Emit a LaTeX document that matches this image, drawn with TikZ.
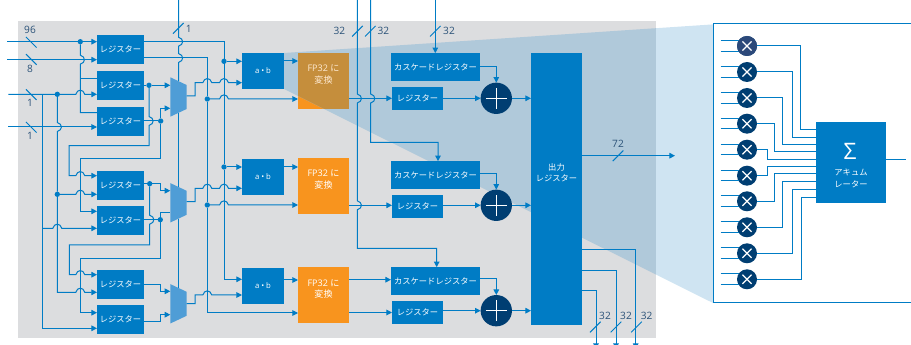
\documentclass[tikz,border=0pt]{standalone}
\usepackage{fontspec}
\setmainfont{Open Sans}
\newfontfamily\jpf{Noto Sans CJK JP}
\usetikzlibrary{positioning}
\usetikzlibrary{calc}
\usetikzlibrary{arrows.meta}
\definecolor{boxblue}{RGB}{0,124,197}
\definecolor{muxblue}{RGB}{79,157,214}
\definecolor{navy}{RGB}{0,62,114}
\definecolor{slatenavy}{RGB}{44,73,122}
\definecolor{orange}{RGB}{248,148,30}
\definecolor{tintorange}{RGB}{197,142,60}
\definecolor{panel}{RGB}{220,221,223}
\definecolor{tintpanel}{RGB}{176,201,218}
\definecolor{tintwhite}{RGB}{207,228,242}
\definecolor{buslabel}{RGB}{43,82,120}
% wire jumps: line over a crossing wire
\newcommand{\hoph}[2]{-- (#1-4.5,#2) .. controls (#1-3,#2-5.5) and (#1+3,#2-5.5) .. (#1+4.5,#2)}
\newcommand{\hopv}[2]{-- (#1,#2-4.5) .. controls (#1+5.5,#2-3) and (#1+5.5,#2+3) .. (#1,#2+4.5)}
% bus width marks
\newcommand{\markback}[2]{\draw[wire] (#1-5.3,#2-5.3) -- (#1+5.3,#2+5.3);}
\newcommand{\markfwd}[2]{\draw[wire] (#1-5.3,#2+5.3) -- (#1+5.3,#2-5.3);}

\begin{document}
\begin{tikzpicture}[x=0.75pt, y=-0.75pt,
    blk/.style={rectangle, fill=boxblue, text=white, inner sep=0pt, outer sep=0pt, align=center, font=\fontsize{6.2}{7.6}\selectfont},
    regbox/.style={blk, minimum width=35.25pt, minimum height=21.75pt},
    abbox/.style={blk, minimum width=31.5pt, minimum height=27pt, font=\fontsize{5.8}{7.6}\selectfont},
    fpbox/.style={rectangle, fill=orange, inner sep=0pt, outer sep=0pt, minimum width=38.25pt, minimum height=41.8pt},
    fptext/.style={text=white, inner sep=0pt, align=center, font=\fontsize{6.8}{8.8}\selectfont},
    casbox/.style={blk, minimum width=66.75pt, minimum height=20.8pt},
    smallbox/.style={blk, minimum width=38.25pt, minimum height=17.25pt},
    muxnode/.style={rectangle, inner sep=0pt, outer sep=0pt, minimum width=12.3pt, minimum height=29.55pt},
    addnode/.style={circle, fill=navy, inner sep=0pt, outer sep=0pt, minimum size=23.5pt, path picture={
        \draw[white, line width=0.8pt] (path picture bounding box.center) +(-7.9pt,0pt) -- +(7.9pt,0pt);
        \draw[white, line width=0.8pt] (path picture bounding box.center) +(0pt,-7.9pt) -- +(0pt,7.9pt);}},
    mulnode/.style={circle, fill=navy, inner sep=0pt, outer sep=0pt, minimum size=15pt, path picture={
        \draw[white, line width=0.9pt] (path picture bounding box.center) +(-3.4pt,-3.4pt) -- +(3.4pt,3.4pt);
        \draw[white, line width=0.9pt] (path picture bounding box.center) +(-3.4pt,3.4pt) -- +(3.4pt,-3.4pt);}},
    dot/.style={circle, fill=boxblue, inner sep=0pt, outer sep=0pt, minimum size=4pt},
    wire/.style={draw=boxblue, line width=0.75pt},
    arr/.style={wire, -{Triangle[length=4.2pt,width=4.2pt]}},
    bus/.style={text=buslabel, inner sep=0pt, font=\fontsize{7.6}{9}\selectfont}]
    \path[use as bounding box, clip] (0,0) rectangle (911,345);

    % panel, zoom wedge
    \fill[tintwhite] (284,53) -- (713,24.4) -- (713,303) -- (284,89) -- cycle;
    \fill[panel] (18,21) rectangle (656,338);
    \foreach \i/\y in {1/81,2/186,3/295}
        \node[fpbox] (fp\i) at (323.5,\y) {};
    \begin{scope}
        \clip (284,53) -- (713,24.4) -- (713,303) -- (284,89) -- cycle;
        \fill[tintpanel] (18,21) rectangle (656,338);
        \fill[tintorange] (fp1.north west) rectangle (fp1.south east);
    \end{scope}
    \node[fptext, text=white!80!orange] (fp1txt) at (323.5,74.5) {FP32 {\jpf に}\\{\jpf 変換}};
    \node[fptext] (fp2txt) at (323.5,179.5) {FP32 {\jpf に}\\{\jpf 変換}};
    \node[fptext] (fp3txt) at (323.5,289) {FP32 {\jpf に}\\{\jpf 変換}};

    % blocks
    \foreach \i/\y in {1/49.5,2/85.5,3/121.5,4/185.5,5/220.5,6/284.5,7/319.5}
        \node[regbox] (reg\i) at (120.5,\y) {\jpf レジスター};
    \foreach \i/\y in {1/97,2/202.8,3/303.8}{
        \node[muxnode] (mux\i) at (178.5,\y) {};
        \fill[muxblue] (mux\i.north west) -- ([yshift=-5.8pt]mux\i.north east) -- ([yshift=5.8pt]mux\i.south east) -- (mux\i.south west) -- cycle;
    }
    \foreach \i/\y in {1/71,2/177,3/286}
        \node[abbox] (ab\i) at (263,\y) {a • b};
    \foreach \i/\y in {1/67,2/175,3/281}
        \node[casbox] (cas\i) at (435.5,\y) {\jpf カスケードレジスター};
    \foreach \i/\y in {1/98.5,2/206.5,3/312.5}
        \node[smallbox] (sm\i) at (417.5,\y) {\jpf レジスター};
    \foreach \i/\y in {1/98.3,2/205.3,3/310.7}
        \node[addnode] (add\i) at (496.3,\y) {};
    \node[blk, minimum width=38.25pt, minimum height=204pt] (out) at (556.5,189) {};
    \node[text=white, inner sep=0pt, align=center, font=\jpf\fontsize{6.2}{8.6}\selectfont] (outtxt) at (556.5,172.5) {出力\\レジスター};

    % junctions
    \node[dot] (d1) at (80.3,41.7) {};
    \node[dot] (d2) at (57.3,94.3) {};
    \node[dot] (d3) at (57.3,194.3) {};
    \node[dot] (d4) at (149,85.3) {};
    \node[dot] (d5) at (160.7,121) {};
    \node[dot] (d6) at (149.7,183.7) {};
    \node[dot] (d7) at (160.3,219.7) {};
    \node[dot] (d8) at (224,61.3) {};
    \node[dot] (d9) at (224,167) {};
    \node[dot] (d10) at (207.3,99) {};
    \node[dot] (d11) at (207.3,205) {};
    \coordinate (in96) at (7.3,41.7);
    \coordinate (in8) at (7.3,59.7);
    \coordinate (in1a) at (8.3,94.3);
    \coordinate (in1b) at (8,127);
    \coordinate (j1) at (80.3,78.3);
    \coordinate (j2) at (42.7,94.3);
    \coordinate (j3) at (42.7,228.3);
    \coordinate (sel) at (178.5,0);
    \coordinate (bus1) at (357.3,0);
    \coordinate (bus2) at (370.7,0);
    \coordinate (bus3) at (435.3,0);

    % inputs
    \draw[arr] (in96) -- (reg1.west |- in96);
    \draw[arr] (in8) -- (reg1.west |- in8);
    \draw[arr] (in1a) \hoph{80.3}{94.3} -- (reg2.west |- in1a);
    \draw[arr] (in1b) -- (reg3.west |- in1b);
    \draw[wire] (d1) \hopv{80.3}{59.7} -- (80.3,112.7) -- (reg3.west |- 0,112.7);
    \draw[wire] (j1) -- (reg2.west |- j1);
    \draw[wire] (d2) \hopv{57.3}{127} -- (d3);
    \draw[arr] (d3) -- (57.3,292.3) \hoph{80.3}{292.3} -- (reg6.west |- 0,292.3);
    \draw[arr] (d3) \hoph{80.3}{194.3} -- (reg4.west |- d3);
    \draw[arr] (j2) -- (42.7,328.3) -- (reg7.west |- 0,328.3);
    \draw[arr] (j3) \hoph{57.3}{228.3} -- (reg5.west |- j3);

    % register outputs and feedback
    \draw[wire] (reg2.east |- d4) -- (d4);
    \draw[arr] (d4) -- (mux1.west |- d4);
    \draw[wire] (reg3.east |- d5) -- (d5);
    \draw[arr] (d5) -- (160.7,108.3) -- (mux1.west |- 0,108.3);
    \draw[arr] (d4) \hopv{149}{121} -- (149,145.7) -- (69,145.7) -- (69,175.7) \hoph{80.3}{175.7} -- (reg4.west |- 0,175.7);
    \draw[arr] (d5) -- (160.7,158.7) -- (80.3,158.7) -- (80.3,211.3) -- (reg5.west |- 0,211.3);
    \draw[wire] (reg4.east |- d6) -- (d6);
    \draw[arr] (d6) -- (160.3,183.7) -- (160.3,190.7) -- (mux2.west |- 0,190.7);
    \draw[wire] (reg5.east |- d7) -- (d7);
    \draw[wire] (d7) -- (160.3,213) -- (mux2.west |- 0,213);
    \draw[arr] (d6) \hopv{149.7}{219.7} -- (149.7,245) -- (69.3,245) -- (69.3,274.7) \hoph{80.3}{274.7} -- (reg6.west |- 0,274.7);
    \draw[arr] (d7) -- (160.3,258.7) -- (80.3,258.7) -- (80.3,312.7) -- (reg7.west |- 0,312.7);
    \draw[arr] (reg6.east |- 0,284.3) -- (160.7,284.3) -- (160.7,291.3) -- (mux3.west |- 0,291.3);
    \draw[arr] (reg7.east |- 0,321.3) -- (160.7,321.3) -- (160.7,314.7) -- (mux3.west |- 0,314.7);
    \draw[wire] (sel) \hopv{178.5}{41.7} \hopv{178.5}{58} -- ([yshift=-2.9pt]mux1.north);
    \draw[wire] ([yshift=2.9pt]mux1.south) -- ([yshift=-2.9pt]mux2.north);
    \draw[wire] ([yshift=2.9pt]mux2.south) -- ([yshift=-2.9pt]mux3.north);

    % to a*b and FP32
    \draw[wire] (reg1.east |- d1) -- (224,41.7) -- (d9);
    \draw[arr] (d8) -- (ab1.west |- d8);
    \draw[arr] (d9) -- (ab2.west |- d9);
    \draw[arr] (d9) -- (224,279.3) -- (ab3.west |- 0,279.3);
    \draw[wire] (reg1.east |- 0,58) -- (207.3,58) -- (d10);
    \draw[arr] (d10) -- (d11) -- (207.3,313) -- (fp3.west |- 0,313);
    \draw[arr] (d10) \hoph{224}{99} -- (fp1.west |- d10);
    \draw[arr] (d11) \hoph{224}{205} -- (fp2.west |- d11);
    \draw[arr] (mux1.east |- 0,96) -- (195,96) -- (195,82.7) \hoph{207.3}{82.7} \hoph{224}{82.7} -- (ab1.west |- 0,82.7);
    \draw[arr] (mux2.east |- 0,201.7) -- (195,201.7) -- (195,188.3) \hoph{207.3}{188.3} \hoph{224}{188.3} -- (ab2.west |- 0,188.3);
    \draw[arr] (mux3.east |- 0,303.7) -- (195,303.7) -- (195,295) \hoph{207.3}{295} -- (ab3.west |- 0,295);
    \draw[arr] (ab1.east |- 0,61) -- (fp1.west |- 0,61);
    \draw[arr] (ab2.east |- 0,167) -- (fp2.west |- 0,167);
    \draw[arr] (ab3.east |- 0,280) -- (fp3.west |- 0,280);

    % adder stages
    \draw[arr] (fp1.east |- add1) -- (sm1.west |- add1);
    \draw[arr] (sm1.east |- add1) -- (add1.west);
    \draw[arr] (add1.east) -- (out.west |- add1);
    \draw[arr] (cas1.east) -| (add1.north);
    \draw[arr] (fp2.east |- add2) -- (sm2.west |- add2);
    \draw[arr] (sm2.east |- add2) -- (add2.west);
    \draw[arr] (add2.east) -- (out.west |- add2);
    \draw[arr] (cas2.east |- 0,174) -| (add2.north);
    \draw[arr] (fp3.east |- 0,279.7) -- (cas3.west |- 0,279.7);
    \draw[arr] (fp3.east |- sm3) -- (sm3.west);
    \draw[arr] (sm3.east |- add3) -- (add3.west);
    \draw[arr] (add3.east) -- (out.west |- add3);
    \draw[arr] (cas3.east |- 0,279) -| (add3.north);
    \draw[arr] (bus3) -- (bus3 |- cas1.north);
    \draw[arr] (bus2) \hopv{370.7}{98.5} -- (370.7,142.3) -- (438,142.3) -- (438,0 |- cas2.north);
    \draw[arr] (bus1) \hopv{357.3}{98.5} \hopv{357.3}{205.3} -- (357.3,248.3) -- (436.7,248.3) -- (436.7,0 |- cas3.north);

    % outputs
    \coordinate (outa) at (635.7,349);
    \coordinate (outb) at (616,349);
    \coordinate (outc) at (596,349);
    \coordinate (outd) at (675,155.7);
    \draw[arr] (out.east |- 0,249.3) -| (outa);
    \draw[arr] (out.east |- 0,271) -| (outb);
    \draw[arr] (out.east |- 0,290.3) -| (outc);
    \draw[arr] (out.east |- outd) -- (outd);

    % bus marks
    \markback{31.3}{42.3}
    \markback{31.3}{59.5}
    \markback{31.3}{94.6}
    \markback{31.3}{127.3}
    \markfwd{178.3}{28.3}
    \markfwd{357.5}{31.2}
    \markfwd{370.3}{31.2}
    \markfwd{435.3}{31.2}
    \markfwd{595.3}{327}
    \markfwd{616}{327}
    \markfwd{636.5}{327}
    \markfwd{618}{155.8}
    \node[bus] (w96) at (30,30) {96};
    \node[bus] (w8) at (30,69.3) {8};
    \node[bus] (w1a) at (30,103) {1};
    \node[bus] (w1b) at (30,135.7) {1};
    \node[bus] (w1c) at (188.7,28.7) {1};
    \node[bus] (w32a) at (339.3,31) {32};
    \node[bus] (w32b) at (383.3,31) {32};
    \node[bus] (w32c) at (449,31) {32};
    \node[bus] (w32d) at (605,316.3) {32};
    \node[bus] (w32e) at (626,316.3) {32};
    \node[bus] (w32f) at (646.7,316.3) {32};
    \node[bus] (w72) at (618,144.3) {72};

    % accumulator detail
    \coordinate (fa) at (911,23.5);
    \coordinate (fb) at (713,23.5);
    \coordinate (fc) at (713,303);
    \coordinate (fd) at (911,303);
    \draw[wire] (fa) -- (fb) -- (fc) -- (fd);
    \node[blk, minimum width=52.5pt, minimum height=60.5pt] (sum) at (851,162.3) {};
    \node[text=white, inner sep=0pt, font=\fontsize{17}{17}\selectfont] (sigma) at (850,151) {Σ};
    \node[text=white, inner sep=0pt, align=center, font=\jpf\fontsize{6.2}{9.4}\selectfont] (sumtxt) at (851,178.5) {アキュム\\レーター};
    \foreach \i/\y/\x/\t in {1/46/800.3/129.3,2/72/792/137.3,3/98/782.7/145,4/123.7/774.7/152,5/149.7/767/159.3,6/175.7/767/166.7,7/201.3/774.7/174,8/227.3/782.7/182,9/253.3/792/189.3,10/279.3/801/197.7}{
        \node[mulnode] (mul\i) at (747,\y) {};
        \draw[wire] (mul\i.148 -| 720.7,0) -- (mul\i.148);
        \draw[wire] (mul\i.212 -| 720.7,0) -- (mul\i.212);
        \draw[wire] (mul\i.east) -| (\x,\t) -- (sum.west |- 0,\t);
    }
    \fill[slatenavy] (mul1.center) circle[radius=7.5pt];
    \draw[white, line width=0.9pt] (mul1.center) +(-3.4pt,-3.4pt) -- +(3.4pt,3.4pt);
    \draw[white, line width=0.9pt] (mul1.center) +(-3.4pt,3.4pt) -- +(3.4pt,-3.4pt);
    \coordinate (sumout) at (906,159.3);
    \draw[wire] (sum.east |- sumout) -- (sumout);
\end{tikzpicture}
\end{document}
